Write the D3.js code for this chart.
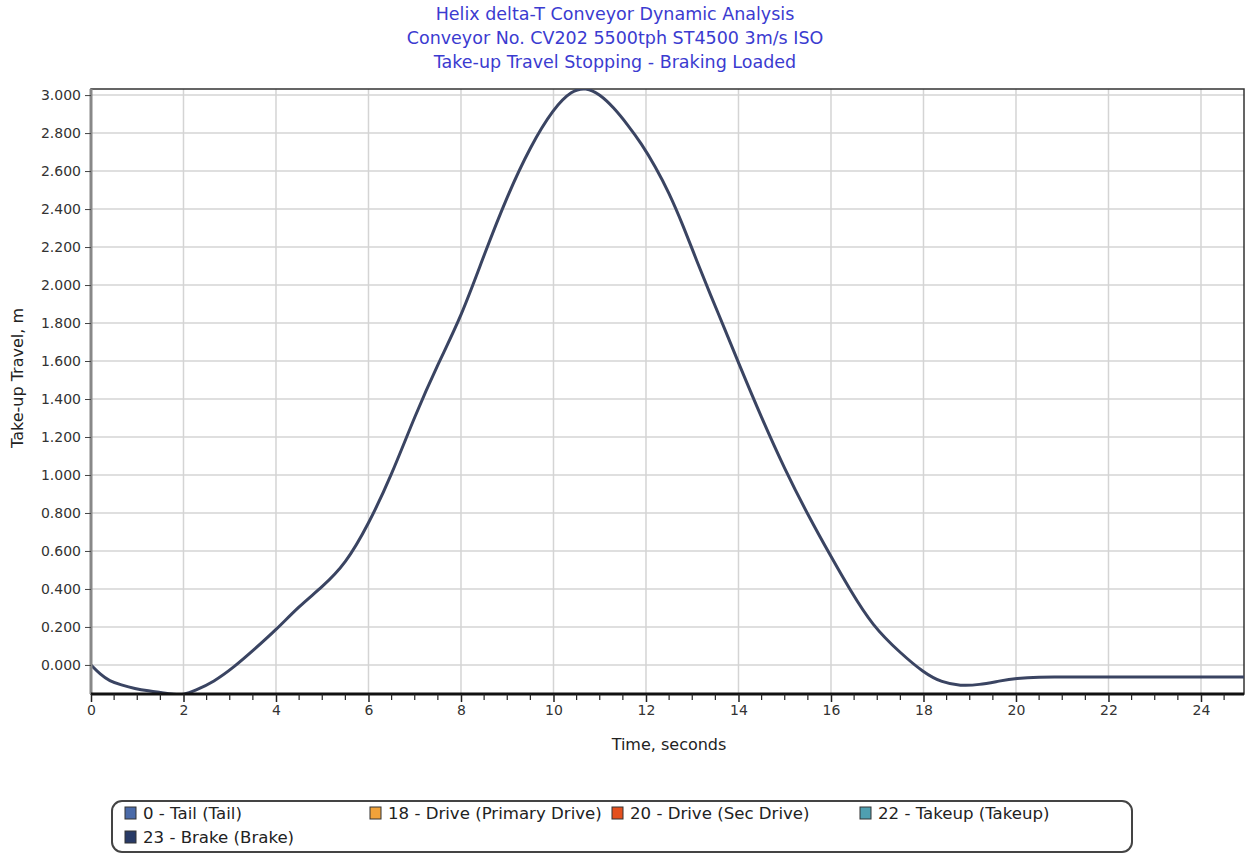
<!DOCTYPE html>
<html><head><meta charset="utf-8">
<script src="https://cdn.jsdelivr.net/npm/d3@7"></script>
<style>
html,body{margin:0;padding:0;background:#fff;}
svg{display:block;font-family:"DejaVu Sans",Verdana,sans-serif;}
</style></head>
<body>
<svg id="chart" width="1248" height="856"></svg>
<script>
const titleLines = ["Helix delta-T Conveyor Dynamic Analysis","Conveyor No. CV202 5500tph ST4500 3m/s ISO","Take-up Travel Stopping - Braking Loaded"];
const timeValues = [0,0.2,0.4,0.65,0.95,1.25,1.5,1.8,2.0,2.25,2.65,3.1,3.5,4.0,4.5,5.0,5.5,6.0,6.5,7.0,7.5,8.0,8.5,9.0,9.5,10.0,10.4,10.7,11.0,11.3,11.6,11.9,12.2,12.5,12.8,13.1,13.4,13.7,14.0,14.5,15.0,15.5,16.0,16.4,16.9,17.5,18.0,18.4,18.8,19.2,19.65,20.0,20.5,21.0,22.0,23.0,24.0,24.93];
const travelValues = [0.000,-0.050,-0.085,-0.105,-0.125,-0.137,-0.145,-0.155,-0.158,-0.135,-0.090,-0.010,0.075,0.184,0.310,0.410,0.530,0.740,1.000,1.310,1.585,1.830,2.160,2.470,2.730,2.930,3.025,3.040,3.005,2.935,2.845,2.745,2.625,2.485,2.315,2.125,1.945,1.770,1.590,1.300,1.030,0.790,0.570,0.400,0.205,0.063,-0.040,-0.093,-0.110,-0.105,-0.084,-0.070,-0.063,-0.064,-0.064,-0.064,-0.064,-0.064];
const xTicks = [0,2,4,6,8,10,12,14,16,18,20,22,24];
const yTicks = [0,0.2,0.4,0.6,0.8,1.0,1.2,1.4,1.6,1.8,2.0,2.2,2.4,2.6,2.8,3.0];
const legendLabels = ["0 - Tail (Tail)","18 - Drive (Primary Drive)","20 - Drive (Sec Drive)","22 - Takeup (Takeup)","23 - Brake (Brake)"];
const legendColors = ["#4a6aa8","#f0a23a","#e4501e","#4f9fb0","#283a66"];

const svg = d3.select("#chart");
const L=91, R=1244, T=89, B=694;
const x = d3.scaleLinear().domain([0,24.93]).range([L,R]);
const y = d3.scaleLinear().domain([-0.153,3.032]).range([B,T]);

// title
svg.append("g").selectAll("text").data(titleLines).join("text")
  .attr("x",615).attr("y",(d,i)=>20+i*24).attr("text-anchor","middle")
  .attr("font-size",17.5).attr("fill","#3b3bd0").text(d=>d);

// grid
svg.append("g").selectAll("line").data(yTicks).join("line")
  .attr("x1",L).attr("x2",R).attr("y1",d=>y(d)).attr("y2",d=>y(d))
  .attr("stroke","#d4d4d4").attr("stroke-width",1.5);
svg.append("g").selectAll("line").data(xTicks.filter(d=>d>0)).join("line")
  .attr("y1",T).attr("y2",B).attr("x1",d=>x(d)).attr("x2",d=>x(d))
  .attr("stroke","#d4d4d4").attr("stroke-width",1.5);

// plot frame
svg.append("rect").attr("x",L).attr("y",T).attr("width",R-L).attr("height",B-T)
  .attr("fill","none").attr("stroke","#333").attr("stroke-width",1.5);

// curve
svg.append("defs").append("clipPath").attr("id","clip").append("rect")
  .attr("x",L).attr("y",T).attr("width",R-L).attr("height",B-T);
const pts = timeValues.map((t,i)=>[t,travelValues[i]]);
svg.append("path").datum(pts).attr("clip-path","url(#clip)")
  .attr("fill","none").attr("stroke","#3a4462").attr("stroke-width",3)
  .attr("stroke-linejoin","round")
  .attr("d", d3.line().x(d=>x(d[0])).y(d=>y(d[1])).curve(d3.curveBasis));

// y axis
const yAxis = svg.append("g").attr("transform",`translate(${L},0)`)
  .call(d3.axisLeft(y).tickValues(yTicks).tickFormat(d3.format(".3f")).tickSize(6).tickPadding(4));
yAxis.select(".domain").attr("stroke","#888").attr("stroke-width",3).attr("d",`M0,${T}V${B}`);
yAxis.selectAll(".tick line").attr("stroke","#444");
yAxis.selectAll("text").attr("font-size",14).attr("fill","#333").attr("font-family","'DejaVu Sans',sans-serif");

// x axis
const xAxis = svg.append("g").attr("transform",`translate(0,${B})`)
  .call(d3.axisBottom(x).tickValues(xTicks).tickFormat(d3.format("d")).tickSize(8).tickPadding(3));
xAxis.select(".domain").attr("stroke","#111").attr("stroke-width",3).attr("d",`M${L},0H${R}`);
xAxis.selectAll(".tick line").attr("stroke","#222").attr("stroke-width",1.5);
xAxis.selectAll("text").attr("font-size",14).attr("fill","#333").attr("font-family","'DejaVu Sans',sans-serif");
const minorX = d3.range(0.5,24.93,0.5).filter(v=>Math.abs(v%2)>1e-9);
svg.append("g").selectAll("line").data(minorX).join("line")
  .attr("x1",d=>x(d)).attr("x2",d=>x(d)).attr("y1",B).attr("y2",B+6)
  .attr("stroke","#222").attr("stroke-width",1.2);

// axis titles
svg.append("text").attr("x",669).attr("y",750).attr("text-anchor","middle")
  .attr("font-size",16).attr("fill","#222").text("Time, seconds");
svg.append("text").attr("transform","translate(23,378) rotate(-90)").attr("text-anchor","middle")
  .attr("font-size",16).attr("fill","#222").text("Take-up Travel, m");

// legend
svg.append("rect").attr("x",112).attr("y",801).attr("width",1020).attr("height",51)
  .attr("rx",10).attr("fill","#fff").attr("stroke","#444").attr("stroke-width",2);
const legPos = [[125,813],[370,813],[612,813],[860,813],[125,837]];
const lg = svg.append("g").selectAll("g").data(legendLabels).join("g")
  .attr("transform",(d,i)=>`translate(${legPos[i][0]},${legPos[i][1]})`);
lg.append("rect").attr("x",0).attr("y",-6).attr("width",11).attr("height",12)
  .attr("fill",(d,i)=>legendColors[i]).attr("stroke","#333").attr("stroke-width",1);
lg.append("text").attr("x",18).attr("y",6).attr("font-size",16.6).attr("fill","#222").text(d=>d);
</script>
</body></html>
